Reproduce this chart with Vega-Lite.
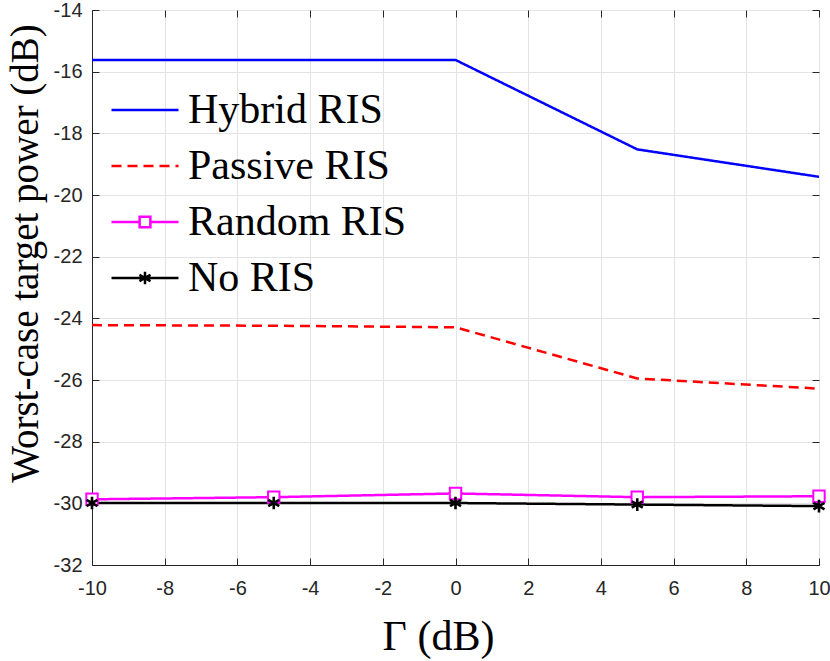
{
  "$schema": "https://vega.github.io/schema/vega-lite/v6.json",
  "width": 727,
  "height": 555,
  "autosize": "none",
  "padding": {"left": 92, "top": 10, "right": 11, "bottom": 96},
  "background": "white",
  "config": {
    "view": {"stroke": "#262626", "strokeWidth": 1},
    "axis": {
      "labelFont": "Liberation Sans",
      "labelFontSize": 20,
      "labelColor": "#262626",
      "labelExpr": "'' + datum.value",
      "titleFont": "Liberation Serif",
      "titleFontSize": 42,
      "titleFontWeight": "normal",
      "titleColor": "#000000",
      "domainColor": "#262626",
      "tickColor": "#262626",
      "tickSize": -7,
      "gridColor": "#e3e3e3",
      "gridOpacity": 1
    }
  },
  "data": {
    "values": [
      {"gamma": -10, "power": -15.62, "series": "Hybrid RIS"},
      {"gamma": -5, "power": -15.62, "series": "Hybrid RIS"},
      {"gamma": 0, "power": -15.62, "series": "Hybrid RIS"},
      {"gamma": 5, "power": -18.52, "series": "Hybrid RIS"},
      {"gamma": 10, "power": -19.41, "series": "Hybrid RIS"},
      {"gamma": -10, "power": -24.22, "series": "Passive RIS"},
      {"gamma": -5, "power": -24.24, "series": "Passive RIS"},
      {"gamma": 0, "power": -24.29, "series": "Passive RIS"},
      {"gamma": 5, "power": -25.95, "series": "Passive RIS"},
      {"gamma": 10, "power": -26.28, "series": "Passive RIS"},
      {"gamma": -10, "power": -29.87, "series": "Random RIS"},
      {"gamma": -5, "power": -29.8, "series": "Random RIS"},
      {"gamma": 0, "power": -29.68, "series": "Random RIS"},
      {"gamma": 5, "power": -29.8, "series": "Random RIS"},
      {"gamma": 10, "power": -29.77, "series": "Random RIS"},
      {"gamma": -10, "power": -29.99, "series": "No RIS"},
      {"gamma": -5, "power": -29.99, "series": "No RIS"},
      {"gamma": 0, "power": -29.99, "series": "No RIS"},
      {"gamma": 5, "power": -30.04, "series": "No RIS"},
      {"gamma": 10, "power": -30.09, "series": "No RIS"}
    ]
  },
  "layer": [
    {
      "mark": {"type": "line", "strokeWidth": 2.5, "clip": true},
      "encoding": {
        "x": {
          "field": "gamma",
          "type": "quantitative",
          "scale": {"domain": [-10, 10], "nice": false, "zero": false},
          "axis": {
            "title": "Γ (dB)",
            "values": [-10, -8, -6, -4, -2, 0, 2, 4, 6, 8, 10],
            "labelPadding": 20,
            "titlePadding": 18,
            "titleX": 346,
            "labelFlush": false
          }
        },
        "y": {
          "field": "power",
          "type": "quantitative",
          "scale": {"domain": [-32, -14], "nice": false, "zero": false},
          "axis": {
            "title": "Worst-case target power (dB)",
            "titleFontSize": 39,
            "titleY": 243,
            "values": [-32, -30, -28, -26, -24, -22, -20, -18, -16, -14],
            "labelPadding": 17,
            "titlePadding": 8,
            "labelFlush": false
          }
        },
        "color": {
          "field": "series",
          "type": "nominal",
          "sort": ["Hybrid RIS", "Passive RIS", "Random RIS", "No RIS"],
          "scale": {
            "domain": ["Hybrid RIS", "Passive RIS", "Random RIS", "No RIS"],
            "range": ["#0000ff", "#ff0000", "#ff00ff", "#000000"]
          },
          "legend": {
            "title": null,
            "orient": "none",
            "legendX": 18,
            "legendY": 65,
            "labelFont": "Liberation Serif",
            "labelFontSize": 42,
            "labelColor": "#000000",
            "labelOffset": 8,
            "symbolSize": 4489,
            "symbolStrokeWidth": 2.5,
            "rowPadding": -9,
            "labelLimit": 400,
            "encode": {
              "symbols": {
                "update": {
                  "shape": {
                    "signal": "datum.value === 'Random RIS' ? 'M-1,0H-0.16M0.16,0H1M-0.16,-0.16H0.16V0.16H-0.16Z' : datum.value === 'No RIS' ? 'M-1,0H1M0,-0.19V0.19M-0.165,-0.095L0.165,0.095M-0.165,0.095L0.165,-0.095' : 'stroke'"
                  },
                  "fill": {"value": "white"}
                }
              }
            }
          }
        },
        "strokeDash": {
          "field": "series",
          "type": "nominal",
          "sort": ["Hybrid RIS", "Passive RIS", "Random RIS", "No RIS"],
          "scale": {
            "domain": ["Hybrid RIS", "Passive RIS", "Random RIS", "No RIS"],
            "range": [[1, 0], [10, 6], [1, 0], [1, 0]]
          },
          "legend": {
            "title": null,
            "orient": "none",
            "legendX": 18,
            "legendY": 65,
            "labelFont": "Liberation Serif",
            "labelFontSize": 42,
            "labelColor": "#000000",
            "labelOffset": 8,
            "symbolSize": 4489,
            "symbolStrokeWidth": 2.5,
            "rowPadding": -9,
            "labelLimit": 400
          }
        }
      }
    },
    {
      "transform": [{"filter": "datum.series === 'Random RIS'"}],
      "mark": {"type": "point", "shape": "square", "size": 130, "fill": "white", "stroke": "#ff00ff", "strokeWidth": 2, "filled": false, "opacity": 1, "fillOpacity": 1},
      "encoding": {
        "x": {"field": "gamma", "type": "quantitative", "axis": {"orient": "top", "labels": false, "title": null, "grid": false, "domain": false, "values": [-10, -8, -6, -4, -2, 0, 2, 4, 6, 8, 10]}},
        "y": {"field": "power", "type": "quantitative", "axis": {"orient": "right", "labels": false, "title": null, "grid": false, "domain": false, "values": [-32, -30, -28, -26, -24, -22, -20, -18, -16, -14]}}
      }
    },
    {
      "transform": [{"filter": "datum.series === 'No RIS'"}],
      "mark": {"type": "point", "shape": "M0,-1V1M-0.87,-0.5L0.87,0.5M-0.87,0.5L0.87,-0.5", "size": 160, "stroke": "#000000", "strokeWidth": 2.6, "filled": false, "opacity": 1},
      "encoding": {
        "x": {"field": "gamma", "type": "quantitative", "axis": null},
        "y": {"field": "power", "type": "quantitative", "axis": null}
      }
    }
  ],
  "resolve": {"axis": {"x": "independent", "y": "independent"}}
}
